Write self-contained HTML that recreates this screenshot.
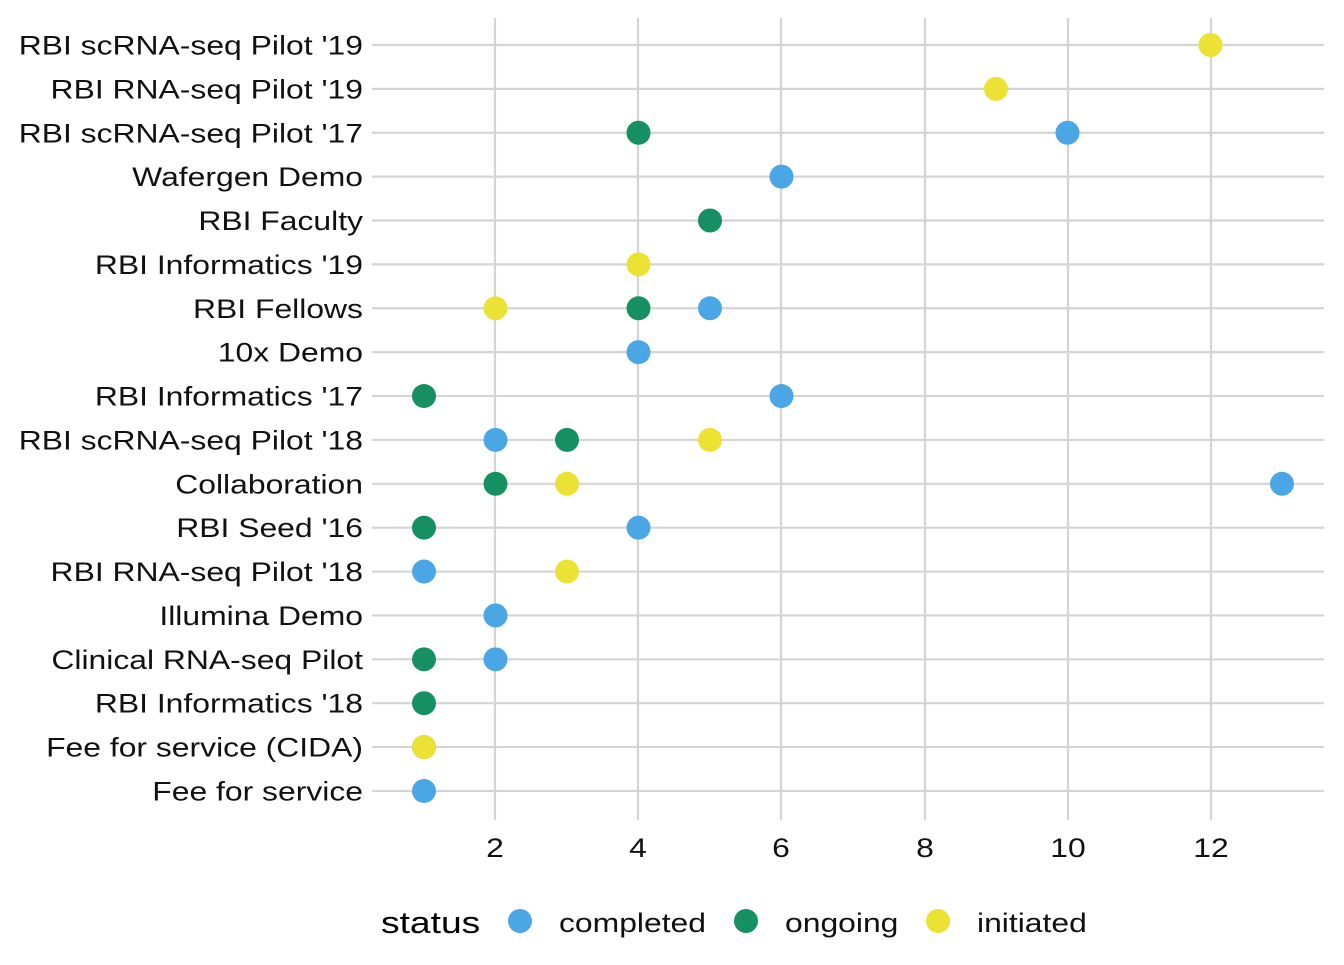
<!DOCTYPE html>
<html><head><meta charset="utf-8"><style>html,body{margin:0;padding:0;background:#fff}</style></head>
<body>
<svg width="1344" height="960" xmlns="http://www.w3.org/2000/svg" font-family="Liberation Sans, Arial, sans-serif">
<rect width="1344" height="960" fill="#fff"/>
<g stroke="#d4d4d4" stroke-width="2.2">
<line x1="495" y1="18" x2="495" y2="820"/><line x1="638" y1="18" x2="638" y2="820"/>
<line x1="781" y1="18" x2="781" y2="820"/><line x1="925" y1="18" x2="925" y2="820"/>
<line x1="1068" y1="18" x2="1068" y2="820"/><line x1="1211" y1="18" x2="1211" y2="820"/>
</g>
<g stroke="#d4d4d4" stroke-width="2.2" id="h"></g>
<g font-size="27" fill="#111" text-anchor="end" id="lbl"></g>
<g id="pts"></g>
<g font-size="27" fill="#111" text-anchor="middle">
<text class="s" x="495" y="857">2</text><text class="s" x="638" y="857">4</text><text class="s" x="781" y="857">6</text>
<text class="s" x="925" y="857">8</text><text class="s" x="1068" y="857">10</text><text class="s" x="1211" y="857">12</text>
</g>
<text id="st" x="381" y="933" font-size="31" fill="#000">status</text>
<circle cx="520" cy="921" r="12" fill="#4aa6e4"/>
<text class="s" x="559" y="932" font-size="27" fill="#111">completed</text>
<circle cx="746" cy="921" r="12" fill="#169062"/>
<text class="s" x="785" y="932" font-size="27" fill="#111">ongoing</text>
<circle cx="938" cy="921" r="12" fill="#ebe233"/>
<text class="s" x="977" y="932" font-size="27" fill="#111">initiated</text>
<script>
var labels=["RBI scRNA-seq Pilot '19","RBI RNA-seq Pilot '19","RBI scRNA-seq Pilot '17","Wafergen Demo","RBI Faculty","RBI Informatics '19","RBI Fellows","10x Demo","RBI Informatics '17","RBI scRNA-seq Pilot '18","Collaboration","RBI Seed '16","RBI RNA-seq Pilot '18","Illumina Demo","Clinical RNA-seq Pilot","RBI Informatics '18","Fee for service (CIDA)","Fee for service"];
var C={c:"#4aa6e4",o:"#169062",i:"#ebe233"};
var pts=[[[12,"i"]],[[9,"i"]],[[4,"o"],[10,"c"]],[[6,"c"]],[[5,"o"]],[[4,"i"]],[[2,"i"],[4,"o"],[5,"c"]],[[4,"c"]],[[1,"o"],[6,"c"]],[[2,"c"],[3,"o"],[5,"i"]],[[2,"o"],[3,"i"],[13,"c"]],[[1,"o"],[4,"c"]],[[1,"c"],[3,"i"]],[[2,"c"]],[[1,"o"],[2,"c"]],[[1,"o"]],[[1,"o"],[1,"i"]],[[1,"c"]]];
var ns="http://www.w3.org/2000/svg",h=document.getElementById("h"),l=document.getElementById("lbl"),p=document.getElementById("pts");
function stretch(t,k){var w=t.getComputedTextLength();t.setAttribute("textLength",w*(k||1.18));t.setAttribute("lengthAdjust","spacingAndGlyphs");}
labels.forEach(function(t,i){var y=45+i*43.88;
var ln=document.createElementNS(ns,"line");ln.setAttribute("x1",372);ln.setAttribute("x2",1324);ln.setAttribute("y1",y);ln.setAttribute("y2",y);h.appendChild(ln);
var tx=document.createElementNS(ns,"text");tx.setAttribute("x",363);tx.setAttribute("y",y+9.5);tx.textContent=t;l.appendChild(tx);stretch(tx);
pts[i].forEach(function(q){var c=document.createElementNS(ns,"circle");c.setAttribute("cx",424+(q[0]-1)*71.5);c.setAttribute("cy",y);c.setAttribute("r",12);c.setAttribute("fill",C[q[1]]);p.appendChild(c);});
});
document.querySelectorAll("text.s").forEach(function(t){stretch(t);});
stretch(document.getElementById("st"),1.2);
</script>
</svg>
</body></html>
